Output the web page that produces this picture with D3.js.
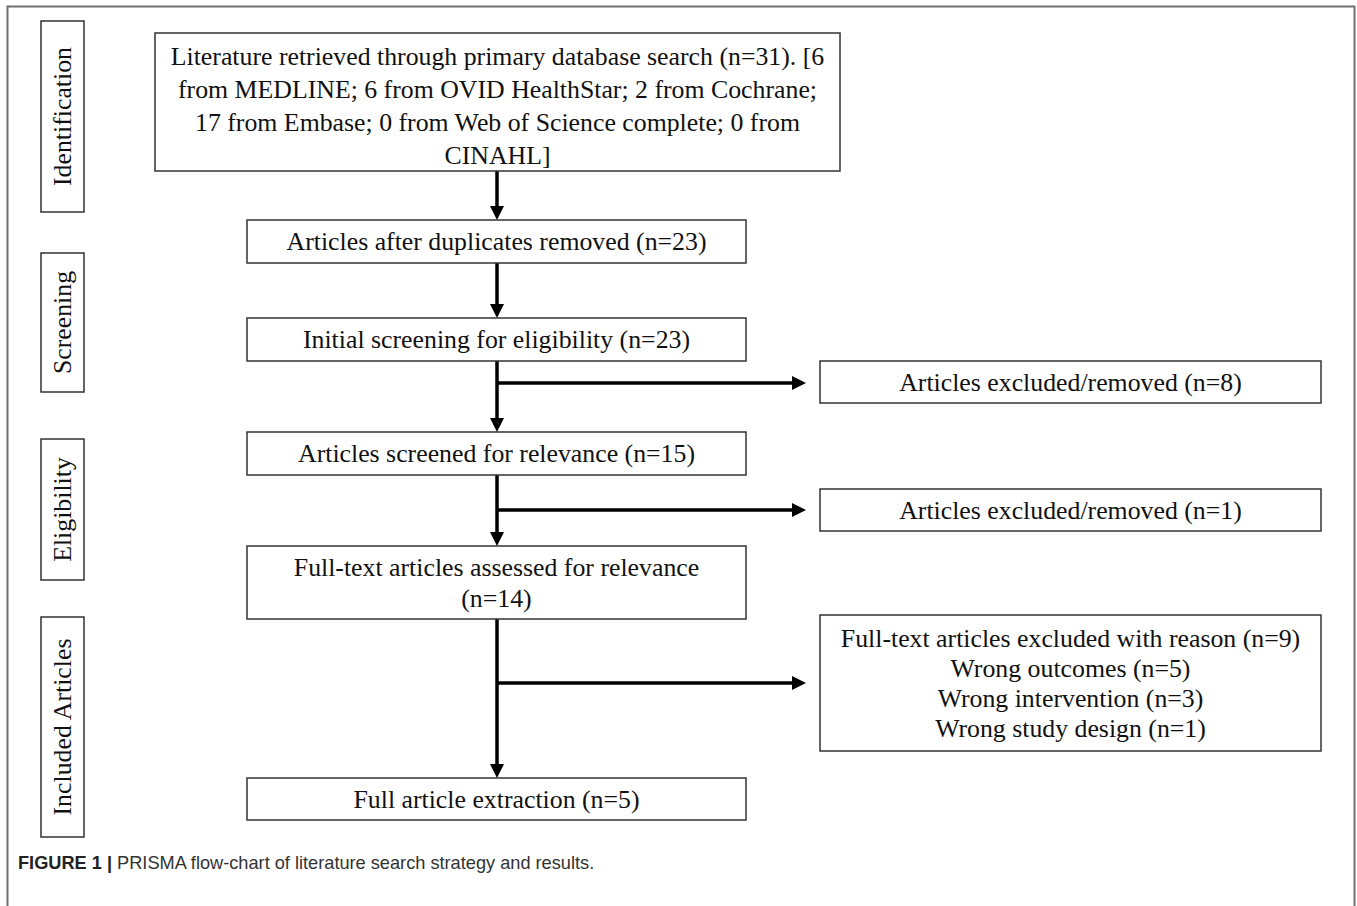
<!DOCTYPE html>
<html>
<head>
<meta charset="utf-8">
<script src="https://cdn.jsdelivr.net/npm/d3@7"></script>
<style>
  body { margin: 0; background: #fff; }
  svg { display: block; }
</style>
</head>
<body>
<div id="chart"></div>
<script>
// phases on the left
const phases = ['Identification', 'Screening', 'Eligibility', 'Included Articles'];

// database search
const sources = ['MEDLINE', 'OVID HealthStar', 'Cochrane', 'Embase', 'Web of Science complete', 'CINAHL'];
const sourceCounts = [6, 6, 2, 17, 0, 0];

// main flow
const stepLabels = [
  'Literature retrieved through primary database search',
  'Articles after duplicates removed',
  'Initial screening for eligibility',
  'Articles screened for relevance',
  'Full-text articles assessed for relevance',
  'Full article extraction'
];
const stepCounts = [31, 23, 23, 15, 14, 5];

// exclusions
const excludedLabels = ['Articles excluded/removed', 'Articles excluded/removed', 'Full-text articles excluded with reason'];
const excludedCounts = [8, 1, 9];
const reasons = ['Wrong outcomes', 'Wrong intervention', 'Wrong study design'];
const reasonCounts = [5, 3, 1];

const caption = 'PRISMA flow-chart of literature search strategy and results.';

const W = 1357, H = 906;
const serif = '"Liberation Serif", "Times New Roman", Times, serif';
const fs = 25.8;

const svg = d3.select('#chart').append('svg')
  .attr('width', W)
  .attr('height', H);

// outer frame (bottom is cut off in the original)
svg.append('rect')
  .attr('x', 7.5).attr('y', 6.5)
  .attr('width', 1347).attr('height', 940)
  .attr('fill', 'none')
  .attr('stroke', '#6f6f6f')
  .attr('stroke-width', 2);

// layout
const mainX = [247, 746];
const exclX = [820, 1321];
const arrowX = 497;
const stepBoxes = [[33, 171], [220, 263], [318, 361], [432, 475], [546, 619], [778, 820]];
const exclBoxes = [[361, 403], [489, 531], [615, 751]];
const branchY = [383, 510, 683];
const phaseBoxes = [[21, 212], [253, 392], [439, 580], [617, 837]];
const firstBoxBreaks = [8, 9, 11, 1]; // words per line in the search box

function splitWords(str, counts) {
  const words = str.split(' ');
  let k = 0;
  return counts.map(c => {
    const part = words.slice(k, k + c).join(' ');
    k += c;
    return part;
  });
}

const sourceText = sourceCounts.map((c, i) => `${c} from ${sources[i]}`).join('; ');
const stepLines = stepLabels.map((d, i) => {
  if (i === 0) return splitWords(`${d} (n=${stepCounts[i]}). [${sourceText}]`, firstBoxBreaks);
  if (i === 4) return [d, `(n=${stepCounts[i]})`];
  return [`${d} (n=${stepCounts[i]})`];
});
const exclLines = excludedLabels.map((d, i) => {
  const first = `${d} (n=${excludedCounts[i]})`;
  if (i === 2) return [first].concat(reasons.map((r, j) => `${r} (n=${reasonCounts[j]})`));
  return [first];
});

function box(x0, x1, y0, y1, lines, lh, shift) {
  const g = svg.append('g');
  g.append('rect')
    .attr('x', x0).attr('y', y0)
    .attr('width', x1 - x0).attr('height', y1 - y0)
    .attr('fill', '#fff')
    .attr('stroke', '#333')
    .attr('stroke-width', 1.5);
  const cy = (y0 + y1) / 2 + (shift || 0);
  const top = cy - (lines.length - 1) * lh / 2;
  g.selectAll('text')
    .data(lines)
    .join('text')
    .attr('x', (x0 + x1) / 2)
    .attr('y', (d, i) => top + i * lh)
    .attr('dy', '0.34em')
    .attr('text-anchor', 'middle')
    .attr('font-family', serif)
    .attr('font-size', fs)
    .attr('fill', '#111')
    .text(d => d);
}

function arrowHead(x, y, dir) {
  // tip at (x, y)
  const l = 14, h = 7;
  const pts = dir === 'down'
    ? [[x, y], [x - h, y - l], [x + h, y - l]]
    : [[x, y], [x - l, y - h], [x - l, y + h]];
  svg.append('path')
    .attr('d', d3.line()(pts) + 'Z')
    .attr('fill', '#000');
}

function line(x1, y1, x2, y2) {
  svg.append('line')
    .attr('x1', x1).attr('y1', y1)
    .attr('x2', x2).attr('y2', y2)
    .attr('stroke', '#000')
    .attr('stroke-width', 3.5);
}

// phase labels
phaseBoxes.forEach((b, i) => {
  const g = svg.append('g');
  g.append('rect')
    .attr('x', 41).attr('y', b[0])
    .attr('width', 43).attr('height', b[1] - b[0])
    .attr('fill', '#fff')
    .attr('stroke', '#333')
    .attr('stroke-width', 1.5);
  g.append('text')
    .attr('transform', `translate(${62.5},${(b[0] + b[1]) / 2}) rotate(-90)`)
    .attr('dy', '0.34em')
    .attr('text-anchor', 'middle')
    .attr('font-family', serif)
    .attr('font-size', fs)
    .attr('fill', '#111')
    .text(phases[i]);
});

// vertical connectors
for (let i = 0; i < stepBoxes.length - 1; i++) {
  const y0 = stepBoxes[i][1], y1 = stepBoxes[i + 1][0];
  line(arrowX, y0, arrowX, y1 - 12);
  arrowHead(arrowX, y1, 'down');
}

// branches to exclusion boxes
branchY.forEach(y => {
  line(arrowX, y, exclX[0] - 26, y);
  arrowHead(exclX[0] - 14, y, 'right');
});

// boxes
stepBoxes.forEach((b, i) => {
  const xs = i === 0 ? [155, 840] : mainX;
  box(xs[0], xs[1], b[0], b[1], stepLines[i], i === 0 ? 33 : 31, i === 0 ? 4 : 0);
});
exclBoxes.forEach((b, i) => box(exclX[0], exclX[1], b[0], b[1], exclLines[i], 30));

// caption
const cap = svg.append('text')
  .attr('x', 18).attr('y', 869)
  .attr('font-family', '"Liberation Sans", Arial, Helvetica, sans-serif')
  .attr('font-size', 18.2)
  .attr('fill', '#333');
cap.append('tspan').attr('font-weight', 'bold').attr('fill', '#222').text('FIGURE 1 | ');
cap.append('tspan').text(caption);
</script>
</body>
</html>
